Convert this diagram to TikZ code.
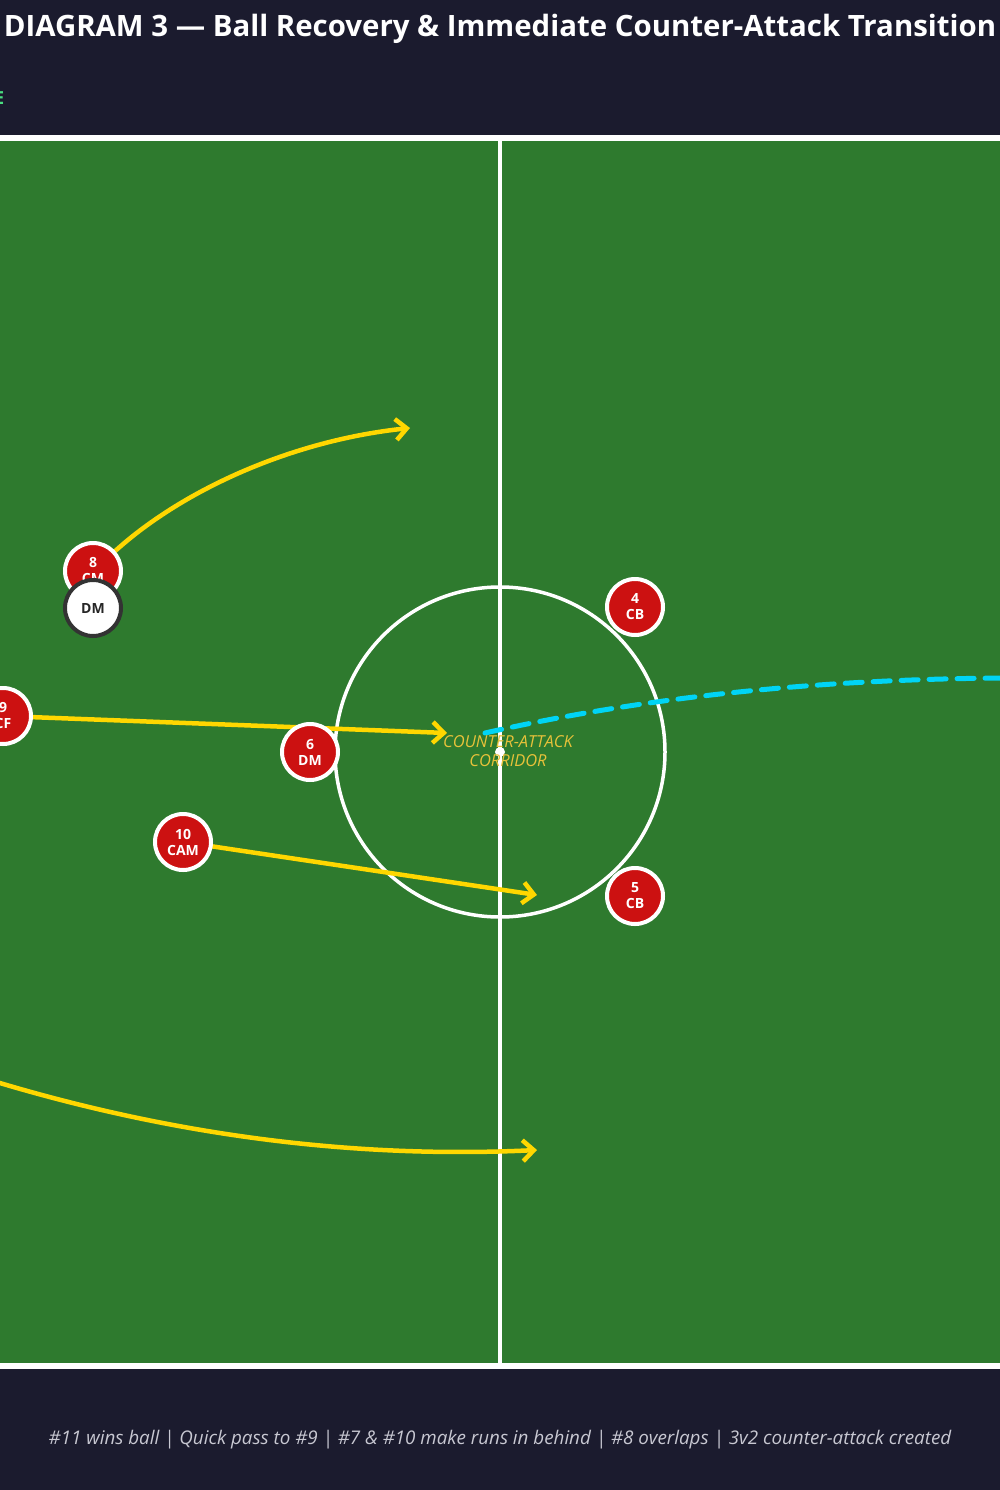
\documentclass[tikz,border=0pt]{standalone}
\usepackage{fontspec}
\setmainfont{Open Sans}
\usetikzlibrary{arrows.meta}

\definecolor{navy}{HTML}{1B1B2E}
\definecolor{grass}{HTML}{2E7A2E}
\definecolor{kitred}{HTML}{CC1111}
\definecolor{runyellow}{HTML}{FFD700}
\definecolor{passcyan}{HTML}{00D4F5}
\definecolor{corridor}{HTML}{E8C23A}
\definecolor{notegray}{HTML}{C8C8D2}
\definecolor{keygreen}{HTML}{4ADE80}

\pgfdeclarelayer{turf}
\pgfdeclarelayer{runs}
\pgfsetlayers{turf,runs,main}

\tikzset{
  player/.style={circle, draw=white, line width=4pt, fill=kitred, minimum size=56pt, inner sep=0pt,
    text=white, align=center, font=\bfseries\fontsize{14}{16}\selectfont},
  rival/.style={player, draw=black!80, fill=white, text=black!85},
  run/.style={draw=runyellow, line width=4.5pt, line cap=round, -{Straight Barb[length=11pt,width=21pt]}},
  pass/.style={draw=passcyan, line width=5pt, line cap=round, dash pattern=on 17pt off 11pt}
}

\begin{document}
\begin{tikzpicture}[x=1pt,y=-1pt]
\useasboundingbox (0,0) rectangle (1000,1490);
\begin{pgfonlayer}{turf}
\fill[navy] (0,0) rectangle (1000,1490);
\draw[white, line width=6pt, fill=grass] (-10,138) rectangle (1010,1366);
\draw[white, line width=3.5pt] (500,138) -- (500,1366);
\draw[white, line width=3.5pt] (500,752) circle[radius=165];
\fill[white] (500,752) circle[radius=5];
\end{pgfonlayer}

% header
\node[text=white, font=\bfseries\fontsize{29.4}{33}\selectfont, anchor=base] (title) at (500,37)
  {DIAGRAM 3 — Ball Recovery \& Immediate Counter-Attack Transition};
\node[keygreen, font=\bfseries\fontsize{18}{20}\selectfont, anchor=base east, inner sep=0pt] (key) at (4.5,105) {E};

% players
\node[player] (p8) at (93,571) {8\\CM};
\node[rival] (d6) at (93,608) {DM};
\node[player] (p9) at (3,716) {9\\CF};
\node[player] (p6) at (310,752) {6\\DM};
\node[player] (p10) at (183,842) {10\\CAM};
\node[player] (p4) at (635,607) {4\\CB};
\node[player] (p5) at (635,896) {5\\CB};

\node[corridor, font=\itshape\fontsize{16.5}{19}\selectfont, align=center] (lane) at (508,751) {COUNTER-ATTACK\\CORRIDOR};

\coordinate (r8) at (410,428);
\coordinate (r9) at (447,733);
\coordinate (r10) at (537,895);
\coordinate (s7) at (-60,1064);
\coordinate (r7) at (537,1150);
\coordinate (ball) at (485,733);
\coordinate (out) at (1021,678);

% runs and pass
\begin{pgfonlayer}{runs}
\draw[run] (p8) .. controls (185,488) and (295,440) .. (r8);
\draw[run] (p9) -- (r9);
\draw[run] (p10) -- (r10);
\draw[run] (s7) .. controls (130,1128) and (330,1160) .. (r7);
\draw[pass] (ball) .. controls (649,696) and (828,678) .. (out);
\end{pgfonlayer}

% footer
\node[notegray, font=\itshape\fontsize{18.8}{22}\selectfont, anchor=base] (notes) at (500,1444)
  {\#11 wins ball | Quick pass to \#9 | \#7 \& \#10 make runs in behind | \#8 overlaps | 3v2 counter-attack created};
\end{tikzpicture}
\end{document}
